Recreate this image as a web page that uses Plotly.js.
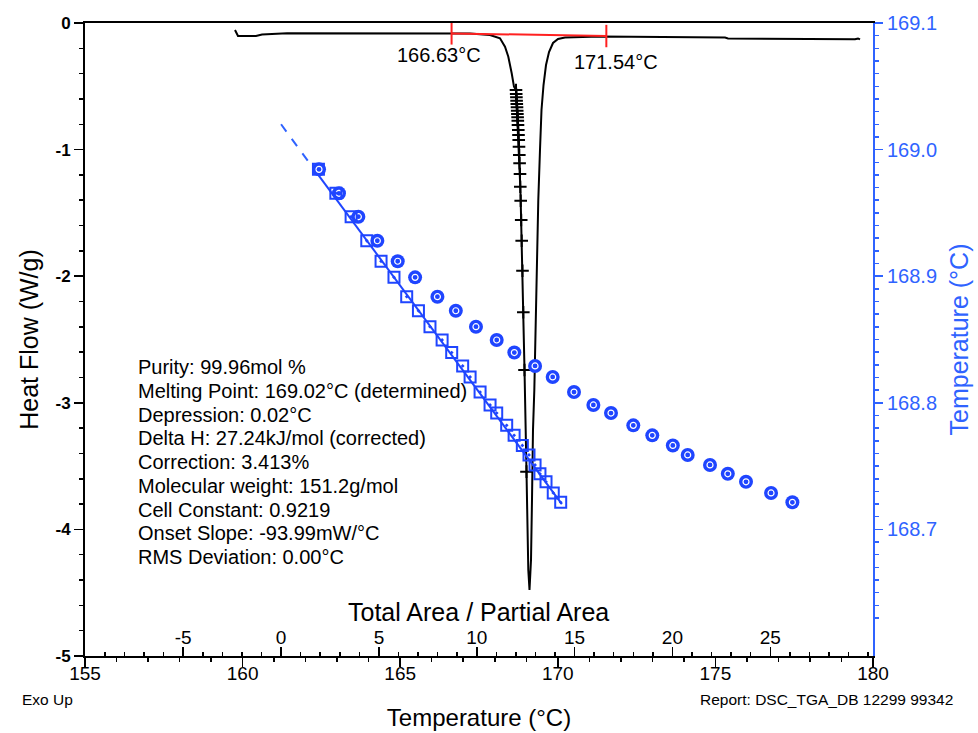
<!DOCTYPE html>
<html>
<head>
<meta charset="utf-8">
<script src="https://cdn.plot.ly/plotly-3.0.1.min.js"></script>
<style>
  html, body { margin: 0; padding: 0; background: #fff; }
  #chart { width: 978px; height: 733px; }
</style>
</head>
<body>
<div id="chart"></div>
<script>
// ---- DSC heat-flow curve (temperature in °C, heat flow in W/g) ----
// baseline and onset of the melting endotherm
const approachTemp = [159.759, 159.854, 160.425, 160.616, 161.409, 163.5, 166.580, 167.214, 167.849, 168.166, 168.325, 168.430, 168.537, 168.610];
const approachFlow = [-0.055, -0.103, -0.103, -0.091, -0.081, -0.082, -0.083, -0.083, -0.095, -0.121, -0.187, -0.266, -0.397, -0.503];
// partial-area integration points on the leading edge
const partTemp = [168.674, 168.680, 168.687, 168.693, 168.699, 168.706, 168.712, 168.718, 168.725, 168.731, 168.737, 168.747, 168.753, 168.760, 168.769, 168.779, 168.788, 168.801, 168.810, 168.823, 168.839, 168.855, 168.880, 168.906, 168.944, 169.007];
const partFlow = [-0.529, -0.561, -0.587, -0.614, -0.640, -0.666, -0.693, -0.719, -0.745, -0.772, -0.806, -0.845, -0.885, -0.924, -0.977, -1.043, -1.108, -1.193, -1.293, -1.404, -1.556, -1.720, -1.957, -2.285, -2.741, -3.544];
// peak minimum, return to baseline and tail
const tailTemp = [169.028, 169.064, 169.102, 169.150, 169.181, 169.213, 169.255, 169.299, 169.331, 169.381, 169.435, 169.483, 169.547, 169.626, 169.721, 169.848, 170.007, 170.229, 171.339, 173.0, 175.305, 175.400, 177.684, 179.429, 179.524, 179.588];
const tailFlow = [-3.926, -4.321, -4.479, -4.242, -3.768, -3.215, -2.899, -2.322, -1.793, -1.398, -1.003, -0.687, -0.490, -0.332, -0.229, -0.158, -0.126, -0.115, -0.107, -0.110, -0.115, -0.122, -0.126, -0.129, -0.122, -0.130];

// integration limits and baseline
const limitTemps = [166.63, 171.54];
const limitFlow = [-0.082, -0.103];

// ---- purity plot: sample temperature vs 1/F ----
const sampleTemp = [168.9844, 168.9655, 168.9470, 168.9280, 168.9118, 168.8991, 168.8838, 168.8727, 168.8601, 168.8496, 168.8397, 168.8291, 168.8204, 168.8085, 168.7983, 168.7919, 168.7822, 168.7743, 168.7663, 168.7588, 168.7509, 168.7439, 168.7376, 168.7288, 168.7214];
const invFCorrected = [1.91, 2.80, 3.58, 4.38, 5.11, 5.77, 6.42, 7.02, 7.61, 8.23, 8.72, 9.28, 9.66, 10.17, 10.68, 11.02, 11.53, 11.91, 12.33, 12.67, 12.98, 13.23, 13.54, 13.91, 14.29];
const invFRaw = [1.94, 2.96, 3.95, 4.92, 5.96, 6.85, 7.99, 8.93, 9.96, 11.02, 11.92, 12.98, 13.88, 14.97, 15.96, 16.86, 18.00, 18.97, 20.02, 20.78, 21.92, 22.83, 23.76, 25.04, 26.13];
// least-squares fit through the corrected points (extrapolated part dashed)
const fitDashX = [0, 1.9];
const fitDashT = [169.02, 168.980];
const fitSolidX = [1.9, 14.35];
const fitSolidT = [168.980, 168.720];

// axis ticks
const areaTicks = [-5, 0, 5, 10, 15, 20, 25];
const flowTicks = [0, -1, -2, -3, -4, -5];

// analysis results
const resultLines = [
  'Purity: 99.96mol %',
  'Melting Point: 169.02°C (determined)',
  'Depression: 0.02°C',
  'Delta H: 27.24kJ/mol (corrected)',
  'Correction: 3.413%',
  'Molecular weight: 151.2g/mol',
  'Cell Constant: 0.9219',
  'Onset Slope: -93.99mW/°C',
  'RMS Deviation: 0.00°C'
];

const FONT = 'Liberation Sans, Arial, sans-serif';
const BLUE = '#1f45ff';
const AXBLUE = '#2f63ff';

const traces = [
  {
    x: approachTemp.concat(partTemp, tailTemp),
    y: approachFlow.concat(partFlow, tailFlow),
    mode: 'lines', line: { color: '#000', width: 2 },
    xaxis: 'x', yaxis: 'y', hoverinfo: 'skip'
  },
  {
    x: partTemp, y: partFlow, mode: 'markers',
    marker: { symbol: 'cross-thin', size: 9, color: '#000', line: { width: 2, color: '#000' } },
    xaxis: 'x', yaxis: 'y'
  },
  {
    x: limitTemps, y: limitFlow, mode: 'lines+markers',
    line: { color: '#ff2020', width: 2 },
    marker: { symbol: 'line-ns', size: 16, color: '#ff2020', line: { width: 2, color: '#ff2020' } },
    xaxis: 'x', yaxis: 'y'
  },
  {
    x: fitDashX, y: fitDashT, mode: 'lines',
    line: { color: AXBLUE, width: 2, dash: 'dash' },
    xaxis: 'x2', yaxis: 'y2'
  },
  {
    x: fitSolidX, y: fitSolidT, mode: 'lines',
    line: { color: BLUE, width: 2 },
    xaxis: 'x2', yaxis: 'y2'
  },
  {
    x: invFRaw, y: sampleTemp, mode: 'markers',
    marker: { symbol: 'circle', size: 14, color: BLUE },
    xaxis: 'x2', yaxis: 'y2'
  },
  {
    x: invFRaw, y: sampleTemp, mode: 'markers',
    marker: { symbol: 'circle-open', size: 6, color: '#ffffff', line: { width: 1.2, color: '#ffffff' } },
    xaxis: 'x2', yaxis: 'y2'
  },
  {
    x: invFCorrected, y: sampleTemp, mode: 'markers',
    marker: { symbol: 'square-open-dot', size: 11, color: BLUE, line: { width: 2, color: BLUE } },
    xaxis: 'x2', yaxis: 'y2'
  }
];

const annotations = [
  {
    text: limitTemps[0].toFixed(2) + '°C', x: limitTemps[0], y: limitFlow[0],
    xref: 'x', yref: 'y', xshift: -13, yshift: -22, showarrow: false,
    font: { family: FONT, size: 20, color: '#000' }
  },
  {
    text: limitTemps[1].toFixed(2) + '°C', x: limitTemps[1], y: limitFlow[1],
    xref: 'x', yref: 'y', xshift: 10, yshift: -26, showarrow: false,
    font: { family: FONT, size: 20, color: '#000' }
  },
  {
    text: 'Total Area / Partial Area', x: 478, y: 612, showarrow: false,
    font: { family: FONT, size: 25, color: '#000' }
  },
  {
    text: 'Exo Up', x: 20, y: 700, showarrow: false, xanchor: 'left',
    font: { family: FONT, size: 15.5, color: '#000' }
  },
  {
    text: 'Report: DSC_TGA_DB 12299 99342', x: 955, y: 700, showarrow: false, xanchor: 'right',
    font: { family: FONT, size: 15.5, color: '#000' }
  }
];

// page-level labels are placed in pixels and converted to paper coordinates
const L = 85, R = 105, T = 23, B = 77, W = 978, H = 733;
const pw = W - L - R, ph = H - T - B;
annotations.forEach(a => {
  if (a.xref === undefined) {
    a.xref = 'paper'; a.yref = 'paper'; a.yanchor = 'middle';
    a.x = (a.x - L) / pw; a.y = (H - B - a.y) / ph;
  }
});

resultLines.forEach((line, i) => {
  annotations.push({
    text: line, xref: 'paper', yref: 'paper', xanchor: 'left', yanchor: 'middle',
    x: (136 - L) / pw, y: (H - B - (367 + i * 23.75)) / ph,
    showarrow: false, font: { family: FONT, size: 20, color: '#000' }
  });
});

const layout = {
  width: W, height: H,
  margin: { l: L, r: R, t: T, b: B },
  paper_bgcolor: '#fff', plot_bgcolor: '#fff',
  showlegend: false,
  font: { family: FONT, color: '#000' },
  xaxis: {
    range: [155, 180], dtick: 5, tick0: 155,
    ticks: 'outside', ticklen: 9, tickwidth: 1.5, tickcolor: '#000',
    ticklabelstandoff: -10,
    minor: { dtick: 1, ticks: 'outside', ticklen: 4, tickcolor: '#000' },
    showline: true, linecolor: '#000', linewidth: 2, mirror: true,
    showgrid: false, zeroline: false,
    tickfont: { family: FONT, size: 19, color: '#000' },
    title: { text: 'Temperature (°C)', standoff: 26, font: { family: FONT, size: 24, color: '#000' } },
    automargin: false
  },
  xaxis2: {
    overlaying: 'x', side: 'bottom', anchor: 'y',
    range: [-10.02, 30.25], tickmode: 'array', tickvals: areaTicks,
    ticktext: areaTicks.map(String),
    ticks: 'inside', ticklen: 9, tickwidth: 1.5, tickcolor: '#000',
    ticklabelposition: 'inside',
    minor: { dtick: 1, ticks: 'inside', ticklen: 4, tickcolor: '#000' },
    showline: false, showgrid: false, zeroline: false,
    tickfont: { family: FONT, size: 19, color: '#000' },
    automargin: false
  },
  yaxis: {
    range: [-5, 0], tickmode: 'array', tickvals: flowTicks, ticktext: flowTicks.map(String),
    ticks: 'outside', ticklen: 9, tickwidth: 1.5, tickcolor: '#000',
    minor: { dtick: 0.2, ticks: 'outside', ticklen: 4, tickcolor: '#000' },
    showline: true, linecolor: '#000', linewidth: 2,
    showgrid: false, zeroline: false,
    tickfont: { family: FONT, size: 17, color: '#000', weight: 'bold' },
    title: { text: 'Heat Flow (W/g)', standoff: 10, font: { family: FONT, size: 25, color: '#000' } },
    automargin: false
  },
  yaxis2: {
    overlaying: 'y', side: 'right', anchor: 'x',
    range: [168.6, 169.1], dtick: 0.1, tickformat: '.1f',
    ticks: 'outside', ticklen: 8, tickwidth: 1.5, tickcolor: AXBLUE,
    minor: { dtick: 0.01, ticks: 'outside', ticklen: 4, tickcolor: AXBLUE },
    showline: true, linecolor: AXBLUE, linewidth: 2,
    showgrid: false, zeroline: false,
    tickfont: { family: FONT, size: 20, color: AXBLUE },
    title: { text: 'Temperature (°C)', standoff: 14, font: { family: FONT, size: 25, color: AXBLUE } },
    automargin: false
  },
  annotations: annotations
};

Plotly.newPlot('chart', traces, layout, { displayModeBar: false, staticPlot: true });
</script>
</body>
</html>
